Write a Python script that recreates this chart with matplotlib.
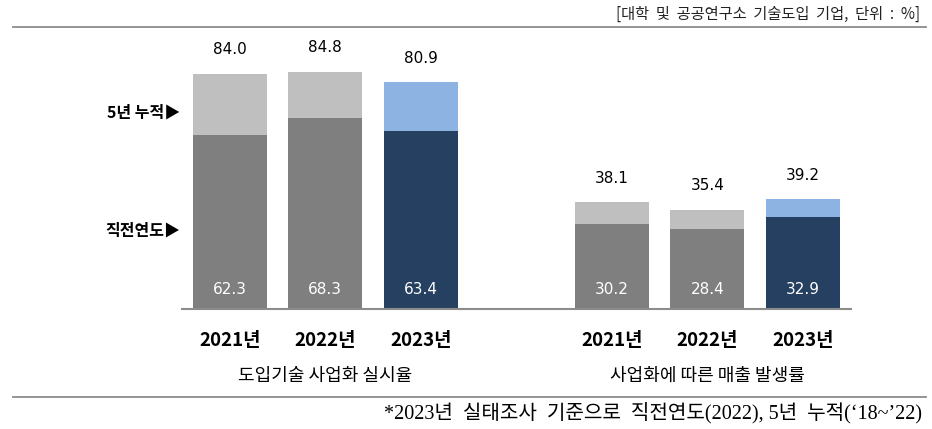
import matplotlib
matplotlib.use("Agg")
import matplotlib.pyplot as plt
from matplotlib.lines import Line2D

KR = ['Noto Sans CJK KR', 'DejaVu Sans']
plt.rcParams['font.family'] = KR

groups = ["도입기술 사업화 실시율", "사업화에 따른 매출 발생률"]
years = ["2021년", "2022년", "2023년"]
prev_year = [62.3, 68.3, 63.4, 30.2, 28.4, 32.9]
cumulative = [84.0, 84.8, 80.9, 38.1, 35.4, 39.2]
positions = [0, 1, 2, 4, 5, 6]

c_bot = ['#7f7f7f', '#7f7f7f', '#254061', '#7f7f7f', '#7f7f7f', '#254061']
c_top = ['#bfbfbf', '#bfbfbf', '#8db3e2', '#bfbfbf', '#bfbfbf', '#8db3e2']

W, H = 932, 429
fig = plt.figure(figsize=(W / 100, H / 100), dpi=100)
ax = fig.add_axes([182 / W, (H - 309) / H, 668.5 / W, 280 / H])
ax.set_xlim(-0.5, 6.5)
ax.set_ylim(0, 100)

top_seg = [c - p for c, p in zip(cumulative, prev_year)]
ax.bar(positions, prev_year, width=0.78, color=c_bot, zorder=2)
ax.bar(positions, top_seg, bottom=prev_year, width=0.78, color=c_top, zorder=2)

for x, p, c in zip(positions, prev_year, cumulative):
    ax.annotate(f"{c:.1f}", (x, c), xytext=(0, 12), textcoords='offset points',
                ha='center', va='bottom', fontsize=11, color='#000000',
                family=['DejaVu Sans'])
    ax.annotate(f"{p:.1f}", (x, 0), xytext=(0, 14), textcoords='offset points',
                ha='center', va='center', fontsize=11, color='white',
                family=['DejaVu Sans'])

for s in ['top', 'right', 'left']:
    ax.spines[s].set_visible(False)
ax.spines['bottom'].set_color('#8c8c8c')
ax.spines['bottom'].set_linewidth(1.5)
ax.set_xticks([])
ax.set_yticks([])

# year labels and group labels
for i, x in enumerate(positions):
    xf = (182 + (x + 0.5) * 95.5) / W
    fig.text(xf, 1 - 340 / H, years[i % 3], ha='center', va='center',
             fontsize=13.5, fontweight='bold')
for gi, g in enumerate(groups):
    xc = positions[gi * 3 + 1]
    xf = (182 + (xc + 0.5) * 95.5) / W
    fig.text(xf, 1 - 376 / H, g, ha='center', va='center', fontsize=13,
             fontweight='medium')

# side labels
fig.text(180 / W, 1 - 113 / H, "5년 누적▶", ha='right', va='center',
         fontsize=11.5, fontweight='bold')
fig.text(180 / W, 1 - 231 / H, "직전연도▶", ha='right', va='center',
         fontsize=11.5, fontweight='bold')

# header
fig.text(920 / W, 1 - 14 / H, "[대학  및  공공연구소  기술도입  기업,  단위  :  %]",
         ha='right', va='center', fontsize=11, color='#222222')
fig.add_artist(Line2D([13 / W, 926 / W], [1 - 27 / H, 1 - 27 / H],
                      color='#8c8c8c', linewidth=1.3))
fig.add_artist(Line2D([13 / W, 926 / W], [1 - 397 / H, 1 - 397 / H],
                      color='#8c8c8c', linewidth=1.3))

# footnote
fig.text(922 / W, 1 - 413 / H,
         "*2023년  실태조사  기준으로  직전연도(2022), 5년  누적(‘18~’22)",
         ha='right', va='center', fontsize=14.5,
         family=['Liberation Serif', 'Noto Sans CJK KR'])

fig.savefig('out.png', dpi=100)
